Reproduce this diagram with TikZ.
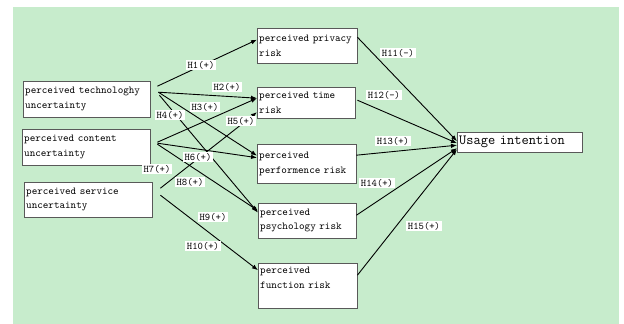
\documentclass[tikz,border=0pt]{standalone}
\usepackage{xcolor}
\usepackage{tikz}
\usetikzlibrary{arrows.meta}
\definecolor{bggreen}{RGB}{199,236,204}
\tikzset{CVbox/.style={draw=black!65,fill=white,anchor=north west,align=left,inner xsep=2pt,inner ysep=3pt,font=\fontsize{10.6}{14.5}\selectfont\ttfamily}}
\tikzset{Hlabel/.style={fill=white,inner xsep=2pt,inner ysep=1.5pt,font=\fontsize{10.2}{11}\selectfont\ttfamily}}
\tikzset{hyp/.style={-{Latex[length=6pt,width=4.5pt]},line width=0.9pt}}

\begin{document}
\begin{tikzpicture}[x=1pt,y=1pt]
	\useasboundingbox (0,0) rectangle (624,324);
	\fill[bggreen] (13,0) rectangle (619,317);
	%
	\node[CVbox,text width=123pt,minimum height=36pt] (tech) at (23,243) {perceived technologhy\\uncertainty};
	\node[CVbox,text width=124pt,minimum height=36pt] (cont) at (22,195) {perceived content\\uncertainty};
	\node[CVbox,text width=124pt,minimum height=35pt] (serv) at (24,142) {perceived service\\uncertainty};
	\node[CVbox,text width=96pt,minimum height=35pt] (priv) at (257,296) {perceived privacy\\risk};
	\node[CVbox,text width=94pt,minimum height=31pt] (time) at (257,237) {perceived time\\risk};
	\node[CVbox,text width=95pt,minimum height=39pt] (perf) at (257,180) {perceived\\performence risk};
	\node[CVbox,text width=94pt,minimum height=35pt] (psych) at (258,121) {perceived\\psychology risk};
	\node[CVbox,text width=95pt,minimum height=45pt,text depth=30pt] (func) at (258,61) {perceived\\function risk};
	\node[CVbox,text width=121pt,minimum height=20pt,inner ysep=1pt,font=\fontsize{14}{16}\selectfont\ttfamily] (use) at (457,192) {Usage intention};
	%
	\path[hyp]
	([shift={(7,13)}]tech.east) edge ([yshift=6]priv.west)
	([shift={(8,7)}]tech.east) edge ([yshift=4.5]time.west)
	([shift={(8,7)}]tech.east) edge ([yshift=8]perf.west)
	([shift={(9,4)}]tech.east) edge ([yshift=8]psych.west)
	([shift={(7,5)}]cont.east) edge ([yshift=4.5]time.west)
	([shift={(7,4)}]cont.east) edge ([yshift=6]perf.west)
	([shift={(7,3)}]cont.east) edge ([yshift=10]psych.west)
	([shift={(8,11.5)}]serv.east) edge ([yshift=-9.5]time.west)
	([shift={(8,4.5)}]serv.east) edge ([yshift=15.5]func.west)
	([yshift=8.5]priv.east) edge ([yshift=1]use.west)
	([shift={(2,2.5)}]time.east) edge ([yshift=-1]use.west)
	([yshift=8.5]perf.east) edge ([yshift=-3]use.west)
	([yshift=5.5]psych.east) edge ([yshift=-6]use.west)
	([yshift=10.5]func.east) edge ([yshift=-7]use.west);
	%
	\node[Hlabel] (h1) at (201,259) {H1(+)};
	\node[Hlabel] (h2) at (227,237) {H2(+)};
	\node[Hlabel] (h3) at (205,217) {H3(+)};
	\node[Hlabel] (h4) at (170,209) {H4(+)};
	\node[Hlabel] (h5) at (241,203) {H5(+)};
	\node[Hlabel] (h6) at (198,167) {H6(+)};
	\node[Hlabel] (h7) at (157,155) {H7(+)};
	\node[Hlabel] (h8) at (190,142) {H8(+)};
	\node[Hlabel] (h9) at (213,107) {H9(+)};
	\node[Hlabel] (h10) at (203,78) {H10(+)};
	\node[Hlabel] (h11) at (398,271) {H11(-)};
	\node[Hlabel] (h12) at (384,229) {H12(-)};
	\node[Hlabel] (h13) at (393,183) {H13(+)};
	\node[Hlabel] (h14) at (377,141) {H14(+)};
	\node[Hlabel] (h15) at (424,98) {H15(+)};
\end{tikzpicture}
\end{document}
